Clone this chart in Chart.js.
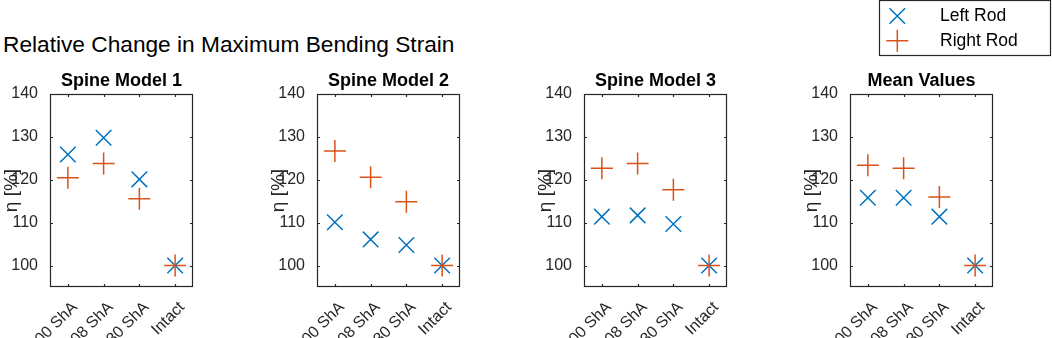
<!DOCTYPE html>
<html>
<head>
<meta charset="utf-8">
<script src="https://cdn.jsdelivr.net/npm/chart.js@4/dist/chart.umd.min.js"></script>
<style>
  html, body { margin: 0; padding: 0; background: #fff; }
  #wrap { position: relative; width: 1052px; height: 338px; overflow: hidden; background: #fff; }
  .panel { position: absolute; top: 0; }
  #mainTitle { position: absolute; left: 3px; top: 33px; font-family: 'Liberation Sans', Arial, sans-serif; font-size: 22.7px; line-height: 1; color: #000; white-space: nowrap; }
</style>
</head>
<body>
<div id="wrap">
  <div id="mainTitle">Relative Change in Maximum Bending Strain</div>
</div>
<script>
// ---- data ----
const categories = ['00 ShA', '08 ShA', '30 ShA', 'Intact'];
const panelTitles = ['Spine Model 1', 'Spine Model 2', 'Spine Model 3', 'Mean Values'];
const seriesNames = ['Left Rod', 'Right Rod'];
const yTicks = [100, 110, 120, 130, 140];

const leftRod1 = [125.9, 129.8, 120.1, 100];
const rightRod1 = [120.5, 123.8, 115.6, 100];
const leftRod2 = [110.1, 106.1, 104.8, 100];
const rightRod2 = [126.7, 120.6, 114.9, 100];
const leftRod3 = [111.4, 111.7, 109.7, 100];
const rightRod3 = [122.7, 123.8, 117.7, 100];
const leftRodMean = [115.8, 115.8, 111.4, 100];
const rightRodMean = [123.4, 122.7, 116.0, 100];

// ---- styling / layout ----
const BLUE = '#0072BD';
const ORANGE = '#D95319';
const AXC = '#262626';
const FONT = "'Liberation Sans', Arial, Helvetica, sans-serif";
Chart.defaults.font.family = FONT;
Chart.defaults.color = AXC;

const plotLefts = [50, 317, 584, 850];
const plotWidth = 143;
const yAxisWidth = 50;
const canvasH = 338;
const xAxisHeight = 51;

const panels = [
  [leftRod1, rightRod1],
  [leftRod2, rightRod2],
  [leftRod3, rightRod3],
  [leftRodMean, rightRodMean]
];

function drawMarker(ctx, style, x, y, r) {
  ctx.beginPath();
  if (style === 'cross') {
    ctx.moveTo(x - r, y); ctx.lineTo(x + r, y);
    ctx.moveTo(x, y - r); ctx.lineTo(x, y + r);
  } else {
    const o = r * Math.SQRT1_2;
    ctx.moveTo(x - o, y - o); ctx.lineTo(x + o, y + o);
    ctx.moveTo(x - o, y + o); ctx.lineTo(x + o, y - o);
  }
  ctx.stroke();
}

const boxPlugin = {
  id: 'matlabBox',
  afterDatasetsDraw(chart) {
    const { ctx, chartArea: a, scales } = chart;
    const xs = scales.x, ys = scales.y;
    ctx.save();
    ctx.strokeStyle = AXC;
    ctx.lineWidth = 1.2;
    const L = Math.round(a.left) + 0.5, R = Math.round(a.right) - 0.5;
    const T = Math.round(a.top) + 0.5, B = Math.round(a.bottom) - 0.5;
    ctx.strokeRect(L, T, R - L, B - T);
    const tl = 2.5;
    ctx.beginPath();
    xs.ticks.forEach((t, i) => {
      const px = Math.round(xs.getPixelForTick(i)) + 0.5;
      ctx.moveTo(px, B); ctx.lineTo(px, B - tl);
      ctx.moveTo(px, T); ctx.lineTo(px, T + tl);
    });
    ys.ticks.forEach(t => {
      const py = Math.round(ys.getPixelForValue(t.value)) + 0.5;
      ctx.moveTo(L, py); ctx.lineTo(L + tl, py);
      ctx.moveTo(R, py); ctx.lineTo(R - tl, py);
    });
    ctx.stroke();
    ctx.restore();
  }
};

const legendPlugin = {
  id: 'matlabLegend',
  afterDraw(chart) {
    if (!chart.options.plugins.matlabLegend || !chart.options.plugins.matlabLegend.show) return;
    const ctx = chart.ctx;
    const offX = chart.options.plugins.matlabLegend.offsetX;
    ctx.save();
    ctx.strokeStyle = AXC;
    ctx.lineWidth = 1.2;
    ctx.strokeRect(879.5 - offX, 0.5, 1050.5 - 879.5, 55);
    const rows = [16, 40.7];
    chart.data.datasets.forEach((ds, i) => {
      ctx.strokeStyle = ds.borderColor;
      ctx.lineWidth = 1.5;
      drawMarker(ctx, ds.pointStyle, 897.3 - offX, rows[i], 11);
      ctx.fillStyle = '#000';
      ctx.font = '17.5px ' + FONT;
      ctx.textBaseline = 'middle';
      ctx.textAlign = 'left';
      ctx.fillText(ds.label, 940 - offX, rows[i] + 0.5);
    });
    ctx.restore();
  }
};

const wrap = document.getElementById('wrap');
panels.forEach((series, p) => {
  const isLast = p === panels.length - 1;
  const left = plotLefts[p] - yAxisWidth;
  const width = isLast ? 1052 - left : yAxisWidth + plotWidth + 20;
  const div = document.createElement('div');
  div.className = 'panel';
  div.style.left = left + 'px';
  div.style.width = width + 'px';
  div.style.height = canvasH + 'px';
  const cv = document.createElement('canvas');
  cv.width = width; cv.height = canvasH;
  cv.style.width = width + 'px'; cv.style.height = canvasH + 'px';
  div.appendChild(cv);
  wrap.appendChild(div);

  new Chart(cv, {
    type: 'line',
    data: {
      labels: categories,
      datasets: [
        { label: seriesNames[0], data: series[0], showLine: false, pointStyle: 'crossRot',
          borderColor: BLUE, backgroundColor: BLUE, pointRadius: 11, pointHoverRadius: 11,
          pointBorderWidth: 1.5, order: 1 },
        { label: seriesNames[1], data: series[1], showLine: false, pointStyle: 'cross',
          borderColor: ORANGE, backgroundColor: ORANGE, pointRadius: 11, pointHoverRadius: 11,
          pointBorderWidth: 1.5, order: 0 }
      ]
    },
    options: {
      responsive: false,
      animation: false,
      devicePixelRatio: 1,
      layout: { padding: { top: 60, left: 0, bottom: 0, right: width - yAxisWidth - plotWidth } },
      events: [],
      plugins: {
        legend: { display: false },
        tooltip: { enabled: false },
        title: {
          display: true, text: panelTitles[p], fullSize: false, color: '#000',
          font: { size: 18, weight: 'bold', lineHeight: 1.2 },
          padding: { top: 10.4, bottom: 2 }
        },
        matlabLegend: { show: isLast, offsetX: left }
      },
      scales: {
        x: {
          type: 'category', offset: true,
          grid: { display: false }, border: { display: false },
          ticks: { font: { size: 16 }, color: AXC, minRotation: 45, maxRotation: 45, padding: 3, labelOffset: 7, autoSkip: false },
          afterFit(s) { s.height = xAxisHeight; }
        },
        y: {
          type: 'linear', min: 95, max: 140,
          grid: { display: false }, border: { display: false },
          ticks: { font: { size: 16 }, color: AXC, padding: 4 },
          afterBuildTicks(s) { s.ticks = yTicks.map(v => ({ value: v })); },
          afterFit(s) { s.width = yAxisWidth; },
          title: { display: true, text: 'η [%]', font: { size: 19 }, color: AXC, padding: { top: 0, bottom: 0 } }
        }
      }
    },
    plugins: [boxPlugin, legendPlugin]
  });
});
</script>
</body>
</html>
